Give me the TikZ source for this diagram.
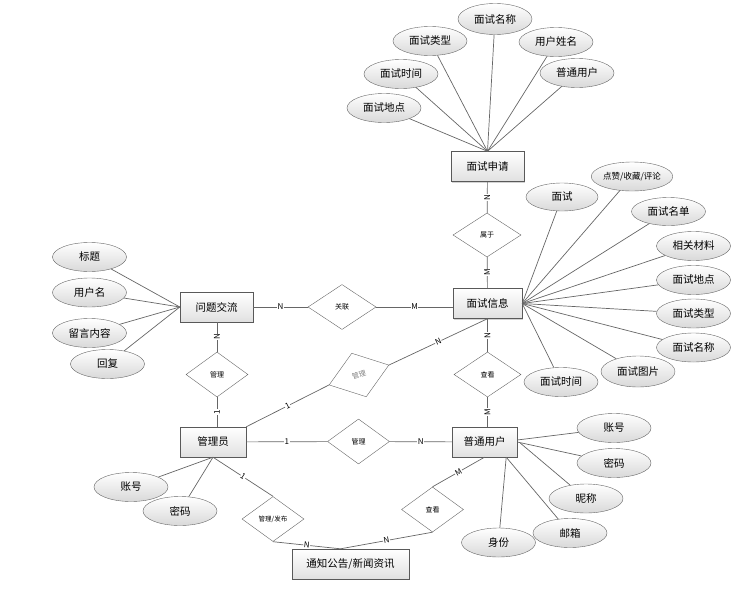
\documentclass[tikz,border=0pt]{standalone}
\usepackage{fontspec}
\newfontfamily\cjk{Noto Sans CJK SC}
\usetikzlibrary{shapes.geometric,shadows}
\begin{document}
\begin{tikzpicture}[x=1pt,y=-1pt,
 ent/.style={rectangle, draw=black!65, top color=white, bottom color=black!12, minimum width=73pt, minimum height=30pt, inner sep=1pt, font=\cjk\fontsize{10.5}{12}\selectfont, drop shadow={shadow xshift=1pt, shadow yshift=-1pt, opacity=0.35}},
 attr/.style={ellipse, draw=black!60, top color=white, bottom color=black!15, minimum width=74pt, minimum height=29pt, inner sep=0pt, font=\cjk\fontsize{10.5}{12}\selectfont},
 rel/.style={diamond, draw=black!60, fill=white, minimum width=62pt, minimum height=45pt, inner sep=0pt, font=\cjk\fontsize{7}{8}\selectfont},
 ln/.style={draw=black!60, line width=0.7pt},
 lbl/.style={font=\cjk\fontsize{8}{9}\selectfont, fill=white, inner sep=0.5pt},
]
\useasboundingbox (0,0) rectangle (744,597);

% entities
\node[ent] (sq) at (487.5,166.5) {面试申请};
\node[ent, minimum width=69pt] (xx) at (487.5,303.5) {面试信息};
\node[ent] (wt) at (216.5,307) {问题交流};
\node[ent, minimum width=66pt] (gly) at (213,442) {管理员};
\node[ent, minimum width=65pt] (pt) at (484.5,442) {普通用户};
\node[ent, minimum width=117pt] (tz) at (350.5,564) {通知公告/新闻资讯};

% relationships
\node[rel, minimum width=68pt, minimum height=44pt] (sy) at (487,235) {属于};
\node[rel, minimum width=68pt] (gl) at (342,307) {关联};
\node[rel] (gl1) at (217,374.5) {管理};
\node[rel, rotate=18.4, minimum width=63pt, minimum height=46pt, text=black!50] (gl2) at (359,375) {管理};
\node[rel, minimum width=67pt] (ck1) at (487.5,374.5) {查看};
\node[rel] (gl3) at (358.5,441.5) {管理};
\node[rel, font=\cjk\fontsize{6.5}{8}\selectfont] (fb) at (273,519) {管理/发布};
\node[rel] (ck2) at (432.5,509.5) {查看};

% relationship connectors
\draw[ln] (sq) -- node[lbl,rotate=90]{N} (sy);
\draw[ln] (sy) -- node[lbl,rotate=90]{M} (xx);
\draw[ln] (wt) -- node[lbl]{N} (gl);
\draw[ln] (gl) -- node[lbl]{M} (xx.west |- gl.east);
\draw[ln] (wt.south -| gl1.north) -- node[lbl,rotate=90]{N} (gl1);
\draw[ln] (gl1.south) -- node[lbl,rotate=90]{1} (gl1.south |- gly.north);
\draw[ln] (gly.north east) -- node[lbl,sloped]{1} (gl2.west);
\draw[ln] (gl2.east) -- node[lbl,sloped]{N} (xx.south);
\draw[ln] (xx) -- node[lbl,rotate=90]{N} (ck1);
\draw[ln] (ck1.south) -- node[lbl,rotate=90]{M} (ck1.south |- pt.north);
\draw[ln] (gly) -- node[lbl]{1} (gl3);
\draw[ln] (gl3) -- node[lbl]{N} (pt);
\draw[ln] (gly.south) -- node[lbl,sloped]{1} (fb.north);
\draw[ln] (fb.south) -- node[lbl,sloped]{N} ([xshift=-10pt]tz.north);
\draw[ln] (ck2.south) -- node[lbl,sloped]{N} ([xshift=-10pt]tz.north);
\draw[ln] (pt.south) -- node[lbl,sloped]{M} (ck2.north);

% attributes of 面试申请
\node[attr, minimum height=31pt] (s1) at (495,19) {面试名称};
\node[attr] (s2) at (430,41) {面试类型};
\node[attr] (s3) at (556,42) {用户姓名};
\node[attr] (s4) at (401,74) {面试时间};
\node[attr] (s5) at (577,73) {普通用户};
\node[attr] (s6) at (384,108) {面试地点};
\foreach \n in {s1,s2,s3,s4,s5,s6} \draw[ln] (\n) -- (sq.north);

% attributes of 面试信息
\node[attr, minimum width=72pt, minimum height=28pt] (x1) at (562,197) {面试};
\node[attr, font=\cjk\fontsize{8.5}{10}\selectfont] (x2) at (632,176.5) {点赞/收藏/评论};
\node[attr, minimum height=28pt] (x3) at (668.5,211.5) {面试名单};
\node[attr] (x4) at (693.5,246) {相关材料};
\node[attr] (x5) at (693.5,280) {面试地点};
\node[attr] (x6) at (693.5,313.5) {面试类型};
\node[attr] (x7) at (693.5,347.5) {面试名称};
\node[attr, minimum height=31pt] (x8) at (638,371.5) {面试图片};
\node[attr] (x9) at (561,382) {面试时间};
\foreach \n in {x1,x2,x3,x4,x5,x6,x7,x8,x9} \draw[ln] (\n) -- (xx.east);

% attributes of 问题交流
\node[attr] (w1) at (89.5,257) {标题};
\node[attr] (w2) at (89.5,292.5) {用户名};
\node[attr] (w3) at (89.5,333) {留言内容};
\node[attr] (w4) at (107.5,364) {回复};
\foreach \n in {w1,w2,w3,w4} \draw[ln] (\n) -- (wt.west);

% attributes of 管理员
\node[attr] (g1) at (131,487) {账号};
\node[attr] (g2) at (180,511) {密码};
\foreach \n in {g1,g2} \draw[ln] (\n) -- (gly.south);

% attributes of 普通用户
\node[attr] (p1) at (614,428) {账号};
\node[attr] (p2) at (614,463) {密码};
\node[attr] (p3) at (586,498.5) {昵称};
\node[attr] (p4) at (570,533) {邮箱};
\node[attr] (p5) at (498.5,542.5) {身份};
\draw[ln] (p1) -- ([yshift=2pt]pt.east);
\draw[ln] (p2) -- (pt.east);
\draw[ln] (p3) -- ([xshift=3pt,yshift=-1pt]pt.east);
\draw[ln] (p4) -- ([xshift=-11pt]pt.south east);
\draw[ln] (p5) -- ([xshift=-11pt]pt.south east);
\end{tikzpicture}
\end{document}
